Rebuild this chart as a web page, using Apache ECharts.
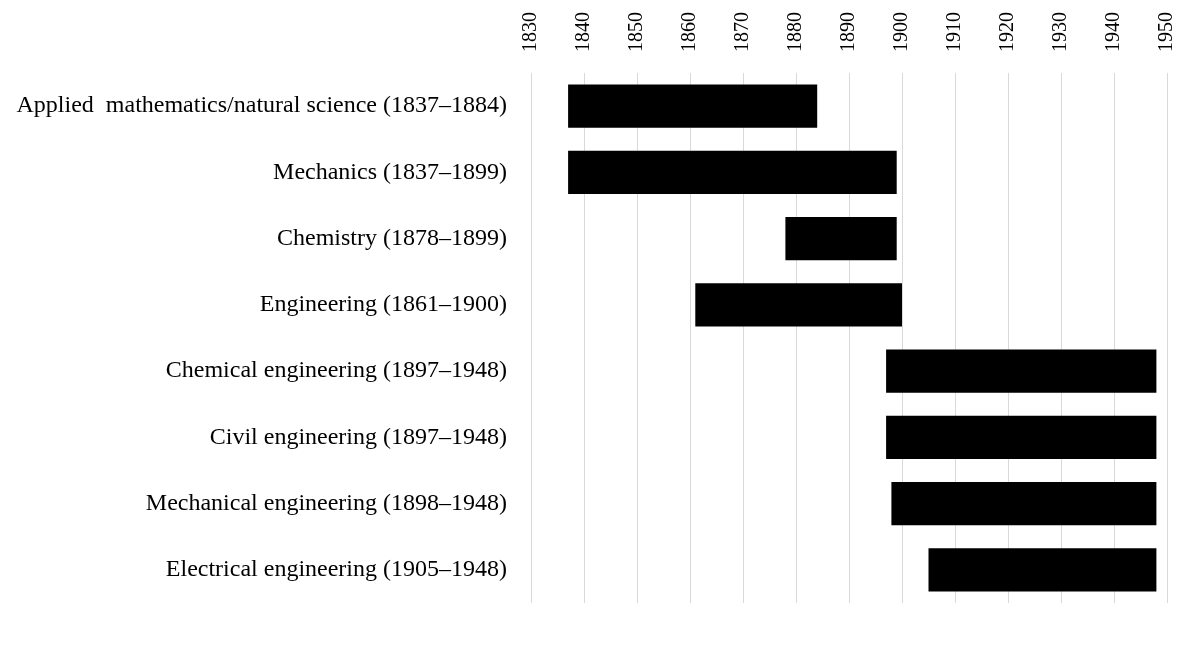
<!DOCTYPE html>
<html>
<head>
<meta charset="utf-8">
<script src="https://cdn.jsdelivr.net/npm/echarts@6/dist/echarts.min.js"></script>
<style>
  html, body { margin: 0; padding: 0; background: #fff; }
  #chart { width: 1196px; height: 664px; }
</style>
</head>
<body>
<div id="chart"></div>
<script>
// Disciplines and the years each one ran
const disciplines = [
  'Applied  mathematics/natural science',
  'Mechanics',
  'Chemistry',
  'Engineering',
  'Chemical engineering',
  'Civil engineering',
  'Mechanical engineering',
  'Electrical engineering'
];
const startYears = [1837, 1837, 1878, 1861, 1897, 1897, 1898, 1905];
const endYears = [1884, 1899, 1899, 1900, 1948, 1948, 1948, 1948];
const yearTicks = [1830, 1840, 1850, 1860, 1870, 1880, 1890, 1900, 1910, 1920, 1930, 1940, 1950];

const labels = disciplines.map((d, i) => d + ' (' + startYears[i] + '\u2013' + endYears[i] + ')');
const spans = endYears.map((e, i) => e - startYears[i]);

const serif = '"Liberation Serif", "DejaVu Serif", serif';

const chart = echarts.init(document.getElementById('chart'), null, { renderer: 'canvas' });
chart.setOption({
  animation: false,
  grid: { left: 531, right: 29, top: 73, bottom: 61, containLabel: false },
  xAxis: {
    type: 'value',
    position: 'top',
    min: yearTicks[0],
    max: yearTicks[yearTicks.length - 1],
    interval: 10,
    axisLine: { show: false },
    axisTick: { show: false },
    axisLabel: {
      rotate: -90,
      margin: 21,
      color: '#000',
      fontFamily: serif,
      fontSize: 20,
      formatter: (v) => String(v)
    },
    splitLine: { show: true, lineStyle: { color: '#d9d9d9', width: 1 } }
  },
  yAxis: {
    type: 'category',
    inverse: true,
    data: labels,
    axisLine: { show: false },
    axisTick: { show: false },
    axisLabel: {
      margin: 24,
      color: '#000',
      fontFamily: serif,
      fontSize: 24
    }
  },
  series: [
    {
      type: 'bar',
      stack: 'span',
      data: startYears,
      itemStyle: { color: 'transparent' },
      silent: true,
      barCategoryGap: '35%'
    },
    {
      type: 'bar',
      stack: 'span',
      data: spans,
      itemStyle: { color: '#000' },
      barCategoryGap: '35%'
    }
  ]
});
</script>
</body>
</html>
